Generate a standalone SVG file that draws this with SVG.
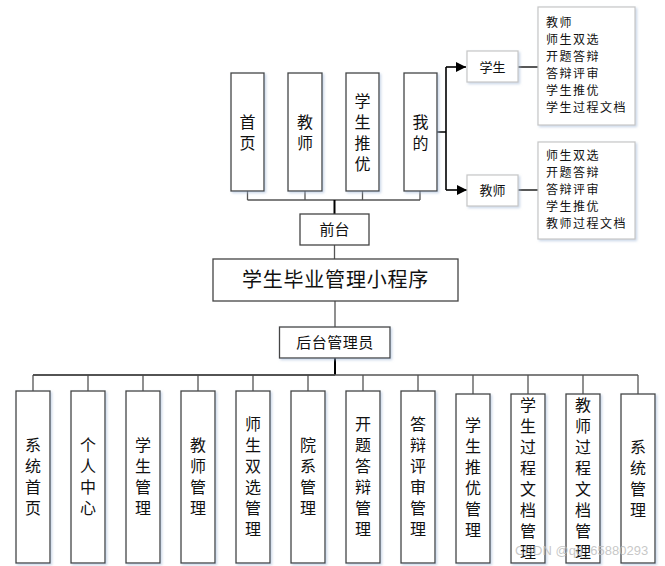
<svg xmlns="http://www.w3.org/2000/svg" width="665" height="566" viewBox="0 0 665 566">
<defs>
<filter id="sh" x="-20%" y="-20%" width="150%" height="150%">
<feDropShadow dx="1.5" dy="1.5" stdDeviation="1.2" flood-color="#9fb6d6" flood-opacity="0.55"/>
</filter>
<marker id="arr" markerWidth="10" markerHeight="10" refX="10" refY="5" orient="auto" markerUnits="userSpaceOnUse">
<path d="M0,0 L10,5 L0,10 Z" fill="#000"/>
</marker>
</defs>
<style>
.b{fill:#fff;stroke:#444;stroke-width:1.3;filter:url(#sh)}
.l{fill:#fff;stroke:#c6c6c6;stroke-width:1.2;filter:url(#sh)}
.t{font-family:"Noto Sans CJK SC","Noto Sans",sans-serif;fill:#111}
.v{font-size:16px;text-anchor:middle;writing-mode:vertical-rl;letter-spacing:5px}
.s{font-size:12px;letter-spacing:1.5px}
.c{fill:none;stroke:#555;stroke-width:1.3}
.k{fill:none;stroke:#000;stroke-width:2}
</style>
<rect width="665" height="566" fill="#fff"/>
<g id="connectors">
<path class="c" d="M247.5,191V200M305,191V200M362.5,191V200M420,191V200M247.5,200H420"/>
<path class="k" d="M334.5,200V214"/>
<path class="c" d="M334.5,245V259M335,301V327"/>
<path class="k" d="M335,358V375"/>
<path class="c" d="M33,375H638M33,375V391M88,375V391M143,375V391M198,375V391M253,375V391M308,375V391M363,375V391M418,375V391M473,375V394M528,375V394M583,375V394M638,375V394"/>
<path d="M335,375H33" fill="none" stroke="#444" stroke-width="1.3"/>
<path class="k" d="M437,132H446M446,67V190" style="stroke-width:1.6"/>
<path class="k" d="M446,67H466" style="stroke-width:1.6" marker-end="url(#arr)"/>
<path class="k" d="M446,190H467" style="stroke-width:1.6" marker-end="url(#arr)"/>
<path class="c" d="M518,67H538M518,190H538" style="stroke:#222"/>
</g>
<g id="n-shouye"><rect class="b" x="231" y="73" width="33" height="118"/><text class="t v" x="247.5" y="134.5">首页</text></g>
<g id="n-jiaoshi"><rect class="b" x="288" y="73" width="34" height="118"/><text class="t v" x="305" y="134.5">教师</text></g>
<g id="n-tuiyou"><rect class="b" x="346" y="73" width="33" height="118"/><text class="t v" x="362.5" y="134.5">学生推优</text></g>
<g id="n-wode"><rect class="b" x="404" y="73" width="33" height="118"/><text class="t v" x="420.5" y="134.5">我的</text></g>
<g id="n-xuesheng"><rect class="l" x="467" y="51" width="51" height="31"/><text class="t" x="492.5" y="71.5" font-size="13" text-anchor="middle">学生</text></g>
<g id="n-jiaoshi2"><rect class="l" x="467" y="175" width="51" height="31"/><text class="t" x="492.5" y="195" font-size="13" text-anchor="middle">教师</text></g>
<g id="n-list1"><rect class="l" x="538" y="7" width="97" height="118"/><text class="t s"><tspan x="546" y="27">教师</tspan><tspan x="546" y="44">师生双选</tspan><tspan x="546" y="61">开题答辩</tspan><tspan x="546" y="78">答辩评审</tspan><tspan x="546" y="95">学生推优</tspan><tspan x="546" y="112">学生过程文档</tspan></text></g>
<g id="n-list2"><rect class="l" x="538" y="142" width="97" height="97"/><text class="t s"><tspan x="546" y="160">师生双选</tspan><tspan x="546" y="177">开题答辩</tspan><tspan x="546" y="194">答辩评审</tspan><tspan x="546" y="211">学生推优</tspan><tspan x="546" y="228">教师过程文档</tspan></text></g>
<g id="n-qiantai"><rect class="b" x="300" y="214" width="69" height="31" style="filter:none"/><text class="t" x="334.5" y="235" font-size="15" text-anchor="middle">前台</text></g>
<g id="n-main"><rect class="b" x="213" y="259" width="245" height="42" style="filter:none"/><text class="t" x="335.5" y="287" font-size="20" letter-spacing="0.8" text-anchor="middle">学生毕业管理小程序</text></g>
<g id="n-houtai"><rect class="b" x="279.5" y="327" width="110.5" height="31"/><text class="t" x="335" y="347.5" font-size="15" letter-spacing="0.5" text-anchor="middle">后台管理员</text></g>
<g id="b1"><rect class="b" x="16" y="391" width="34" height="172"/><text class="t v" x="33" y="479">系统首页</text></g>
<g id="b2"><rect class="b" x="71" y="391" width="34" height="172"/><text class="t v" x="88" y="479">个人中心</text></g>
<g id="b3"><rect class="b" x="126" y="391" width="34" height="172"/><text class="t v" x="143" y="479">学生管理</text></g>
<g id="b4"><rect class="b" x="181" y="391" width="34" height="172"/><text class="t v" x="198" y="479">教师管理</text></g>
<g id="b5"><rect class="b" x="236" y="391" width="34" height="172"/><text class="t v" x="253" y="479">师生双选管理</text></g>
<g id="b6"><rect class="b" x="291" y="391" width="34" height="172"/><text class="t v" x="308" y="479">院系管理</text></g>
<g id="b7"><rect class="b" x="346" y="391" width="34" height="172"/><text class="t v" x="363" y="479">开题答辩管理</text></g>
<g id="b8"><rect class="b" x="401" y="391" width="34" height="172"/><text class="t v" x="418" y="479">答辩评审管理</text></g>
<g id="b9"><rect class="b" x="456" y="394" width="34" height="169"/><text class="t v" x="473" y="480">学生推优管理</text></g>
<g id="b10"><rect class="b" x="511" y="394" width="34" height="169"/><text class="t v" x="528" y="481">学生过程文档管理</text></g>
<g id="b11"><rect class="b" x="566" y="394" width="34" height="169"/><text class="t v" x="583" y="481">教师过程文档管理</text></g>
<g id="b12"><rect class="b" x="621" y="394" width="34" height="169"/><text class="t v" x="638" y="481">系统管理</text></g>
<text x="515" y="555" font-family="Liberation Sans,sans-serif" font-size="13" fill="#bdbdbd" fill-opacity="0.85">CSDN @qq_65880293</text>
</svg>
